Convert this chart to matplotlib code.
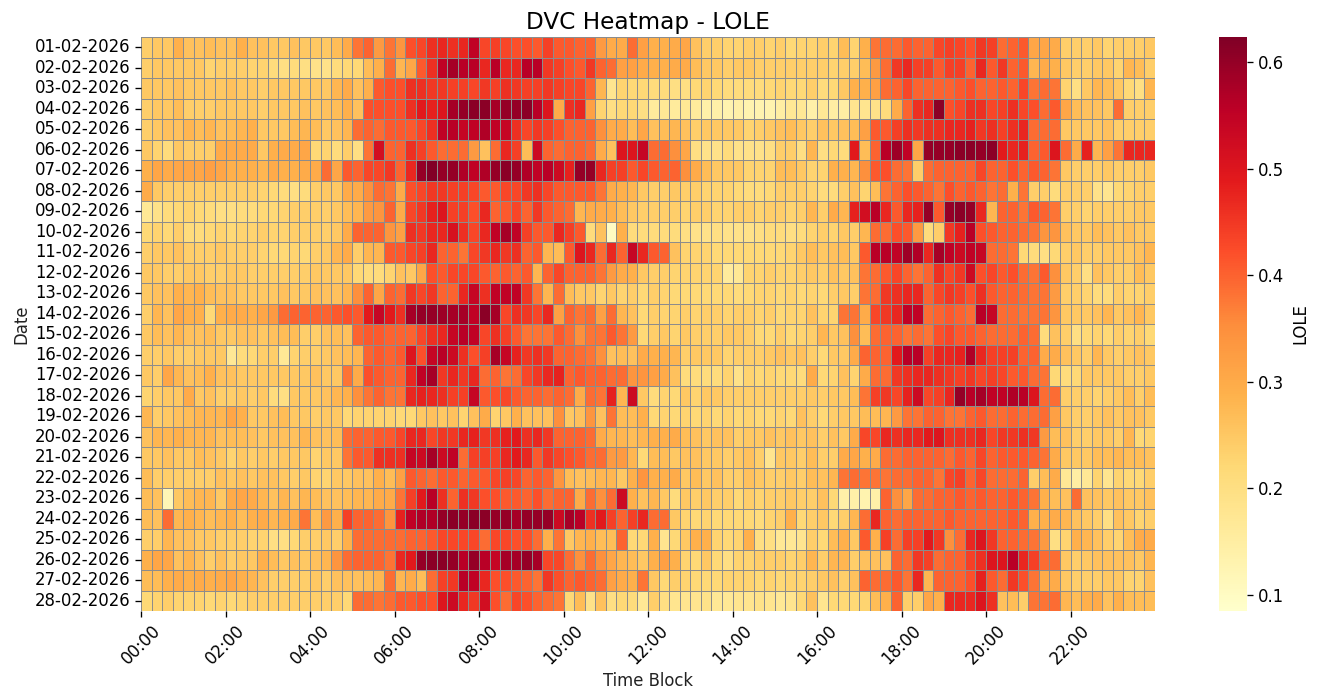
import numpy as np
import matplotlib
matplotlib.use("Agg")
import matplotlib.pyplot as plt
import seaborn as sns

dates = [f"{d:02d}-02-2026" for d in range(1, 29)]
time_ticks = ["00:00","02:00","04:00","06:00","08:00","10:00","12:00","14:00","16:00","18:00","20:00","22:00"]

# LOLE in hundredths, 96 blocks per day, grouped by two hours
r01 = [24,25,25,29,26,26,27,26, 26,29,26,26,25,25,26,25, 25,25,27,30,38,40,33,38, 34,42,43,46,47,46,47,55, 43,44,43,42,42,41,44,41, 41,40,40,33,30,30,39,32, 29,29,30,31,26,24,24,23, 23,24,24,23,24,22,23,23, 24,23,27,23,29,38,39,39, 41,40,40,43,44,43,42,45, 44,39,40,41,31,31,30,24, 24,24,25,23,24,24,24,25]
r02 = [24,25,25,25,25,25,23,24, 24,24,23,23,21,20,21,20, 19,19,21,22,22,27,29,39, 28,31,41,46,55,58,56,56, 47,56,47,47,56,56,45,44, 42,41,45,40,39,32,32,30, 29,29,30,30,27,25,25,24, 25,25,24,24,24,24,24,24, 24,23,24,24,27,33,39,45, 47,44,44,41,44,44,40,47, 41,45,40,41,28,30,29,25, 24,24,25,25,23,28,27,24]
r03 = [25,25,25,26,25,25,25,25, 26,25,25,24,25,25,25,25, 25,25,28,30,26,29,41,42, 42,46,46,45,45,44,44,43, 45,44,46,45,44,44,45,44, 43,43,40,28,18,23,22,22, 21,21,20,20,22,23,22,21, 21,21,21,22,23,22,22,24, 21,22,25,29,29,32,39,40, 43,40,40,40,40,41,42,40, 40,41,40,43,38,39,38,23, 20,25,28,27,25,22,20,28]
r04 = [24,25,25,27,24,24,24,25, 25,25,25,24,25,25,25,26, 25,26,27,29,26,42,42,42, 42,46,49,48,50,58,60,61, 61,58,60,60,61,56,50,30, 46,47,32,23,20,22,22,20, 16,17,16,17,16,14,14,13, 14,13,13,13,15,17,17,14, 17,15,15,18,18,19,21,30, 40,46,47,61,42,43,46,46, 43,44,46,43,42,39,41,31, 27,26,26,25,39,24,24,24]
r05 = [24,25,26,26,28,27,28,26, 27,28,29,25,25,25,27,28, 27,25,26,28,39,40,39,41, 41,41,43,46,55,56,54,55, 57,55,54,46,43,45,44,42, 40,40,40,35,30,30,27,31, 26,27,28,26,24,25,25,25, 25,23,24,25,26,27,25,24, 26,25,26,27,32,41,41,44, 46,45,46,46,47,47,48,45, 46,44,46,47,39,39,39,25, 25,25,25,26,24,24,24,24]
r06 = [25,23,21,25,24,24,24,30, 30,30,30,25,29,30,30,31, 22,23,21,24,20,38,52,40, 40,46,44,41,39,39,39,33, 26,39,47,44,27,53,40,39, 40,40,39,30,26,50,50,54, 39,39,35,31,20,19,19,21, 19,19,19,20,24,24,20,28, 20,22,21,49,27,40,56,59, 55,31,60,60,60,61,61,60, 61,49,47,48,40,41,50,39, 30,48,28,32,38,47,47,47]
r07 = [29,31,30,31,31,31,32,31, 29,29,29,28,30,29,29,30, 30,39,31,41,40,43,43,45, 40,47,60,62,60,60,57,55, 57,60,61,60,57,55,56,53, 48,60,60,47,44,44,41,43, 41,40,40,35,30,27,25,25, 25,23,23,23,27,27,25,23, 23,29,29,28,35,41,42,39, 38,24,39,40,40,40,40,43, 40,40,42,40,41,40,38,25, 24,24,24,25,24,24,24,25]
r08 = [30,25,24,24,24,24,24,24, 24,24,24,23,22,21,20,21, 24,25,25,30,30,35,39,38, 30,42,43,45,45,44,44,43, 41,41,43,43,45,46,43,41, 41,41,41,38,30,29,28,25, 24,24,25,24,24,23,23,23, 22,21,21,22,24,24,24,23, 21,21,24,26,23,27,38,40, 42,41,40,38,42,40,41,40, 38,39,29,38,24,24,21,24, 24,24,19,18,22,23,24,24]
r09 = [17,19,21,22,23,22,21,20, 20,21,21,22,22,23,24,24, 24,24,25,27,28,33,34,40, 30,43,45,48,50,44,44,42, 47,40,41,43,40,45,41,40, 39,28,30,30,29,27,25,24, 24,24,24,23,24,24,23,23, 24,24,23,24,24,23,24,28, 24,30,28,48,52,56,47,41, 47,48,60,41,60,61,60,47, 28,40,40,38,41,40,38,24, 24,23,24,24,24,24,25,25]
r10 = [22,23,22,24,21,21,22,23, 22,23,23,24,23,23,24,24, 24,24,25,30,40,40,40,34, 32,46,45,47,47,51,46,43, 47,55,58,55,44,41,41,47, 44,41,21,26,10,29,21,21, 21,21,21,20,19,19,20,19, 19,19,20,21,21,20,21,23, 24,23,25,24,28,39,39,42, 41,33,21,24,45,48,56,42, 41,40,40,39,38,34,34,26, 25,25,27,26,25,26,25,25]
r11 = [24,25,25,26,24,24,24,25, 24,24,24,23,22,22,23,22, 24,25,28,30,24,28,28,41, 41,43,44,47,40,40,38,43, 45,47,45,46,40,41,28,27, 41,50,47,39,47,40,54,47, 41,40,26,23,23,23,22,22, 22,22,22,22,22,23,25,27, 25,26,27,25,41,56,56,55, 59,57,47,58,55,53,55,54, 39,39,38,22,21,20,22,24, 25,24,24,25,25,25,26,28]
r12 = [25,25,24,24,25,25,24,24, 25,25,24,24,24,24,24,24, 25,25,25,25,22,21,21,23, 26,25,31,42,41,43,43,43, 41,40,41,40,41,28,40,43, 40,40,40,38,33,30,29,25, 24,24,23,23,23,23,23,16, 17,23,23,24,23,23,24,25, 24,26,25,26,38,39,41,43, 40,38,40,46,43,45,53,42, 43,41,42,39,38,41,35,25, 24,20,26,25,24,24,27,25]
r13 = [25,26,26,29,28,29,27,26, 26,25,25,25,25,26,25,25, 26,26,26,28,35,40,31,40, 39,45,43,45,40,40,47,54, 46,55,55,55,45,38,28,39, 27,25,25,23,25,23,24,22, 24,23,22,22,22,22,22,22, 21,22,23,23,22,23,22,23, 22,24,25,24,38,39,45,46, 47,47,40,43,45,44,42,46, 41,40,40,39,38,38,33,24, 24,23,21,21,24,23,23,24]
r14 = [24,28,26,31,29,29,22,29, 30,30,29,31,33,39,40,40, 40,40,41,42,41,49,54,49, 46,58,60,60,59,58,58,55, 61,58,43,46,45,43,47,32, 40,38,39,32,39,28,26,22, 24,23,23,24,23,24,24,23, 24,24,23,24,22,23,23,26, 23,23,38,38,30,43,45,47, 55,55,39,40,41,40,39,56, 54,39,39,38,38,38,34,25, 25,25,26,28,25,26,28,25]
r15 = [25,27,26,28,26,26,27,25, 25,26,26,25,26,27,27,24, 24,26,27,26,40,41,41,40, 40,40,43,46,47,54,56,55, 43,46,44,41,38,38,38,41, 39,35,38,38,41,38,33,22, 24,25,23,25,24,24,24,25, 25,24,22,22,24,22,23,24, 28,25,26,35,27,39,40,40, 38,39,38,42,43,41,41,40, 39,39,39,40,39,21,26,24, 20,22,23,22,24,23,24,22]
r16 = [24,24,25,24,24,25,25,25, 17,21,22,24,24,17,23,24, 24,25,26,27,28,40,41,40, 41,50,42,54,56,53,46,42, 44,58,54,48,45,46,45,40, 40,39,38,35,26,27,26,30, 29,29,28,24,25,25,25,23, 24,24,24,25,26,25,26,24, 22,25,25,30,40,40,40,49, 56,56,44,47,47,48,57,47, 44,44,44,40,40,30,30,26, 25,24,28,25,24,25,26,25]
r17 = [25,24,31,28,26,27,29,26, 26,25,25,25,25,25,25,25, 26,25,25,38,30,42,41,40, 40,47,55,58,45,47,45,47, 39,40,38,39,43,45,47,48, 40,41,40,40,39,39,34,34, 32,30,26,21,21,21,21,23, 19,23,22,23,22,22,21,30, 22,23,26,23,30,39,39,45, 46,47,47,46,45,44,45,43, 44,43,41,41,39,38,22,21, 22,25,25,25,25,24,24,25]
r18 = [23,24,25,25,30,25,26,24, 24,25,24,25,21,20,25,25, 25,26,28,29,35,38,40,38, 38,47,48,47,46,44,44,54, 41,42,43,41,40,40,39,40, 39,30,39,38,48,28,53,25, 21,23,22,25,23,25,25,24, 24,24,24,24,24,24,24,25, 24,25,25,27,38,44,45,43, 48,53,43,44,47,60,56,58, 55,55,57,56,50,39,39,24, 24,24,23,24,25,27,24,27]
r19 = [28,24,25,26,27,28,28,28, 31,29,25,25,26,27,25,25, 24,25,25,22,23,23,23,23, 22,22,25,26,25,26,23,26, 30,23,25,29,26,26,26,35, 25,26,34,26,38,27,27,29, 22,23,22,23,22,23,22,23, 22,23,22,22,23,22,26,24, 22,24,25,25,27,27,28,33, 38,38,40,40,38,38,40,41, 39,39,40,39,39,39,32,25, 24,24,25,26,25,26,26,25]
r20 = [26,28,28,29,28,28,28,26, 27,27,26,25,26,26,26,28, 26,26,27,39,40,40,41,41, 43,47,47,43,45,45,47,48, 45,46,48,49,46,47,45,40, 40,40,39,30,28,28,27,28, 29,29,30,27,26,25,26,26, 24,25,25,26,25,26,25,26, 24,26,25,30,43,43,47,46, 47,47,49,50,46,46,46,47, 43,45,45,46,45,33,27,26, 24,24,25,25,24,28,22,23]
r21 = [25,25,26,25,25,27,26,25, 23,25,24,25,24,25,25,25, 23,25,25,38,41,41,46,46, 46,54,53,58,53,55,39,44, 44,44,47,49,47,41,45,43, 42,41,39,39,33,33,28,22, 27,27,25,26,26,25,25,24, 25,26,24,18,25,25,24,27, 24,24,30,31,29,30,39,39, 40,40,40,40,39,41,40,43, 40,41,41,41,40,38,30,25, 25,25,27,27,28,27,27,26]
r22 = [27,24,24,24,24,24,24,26, 25,26,25,26,26,25,24,25, 23,23,25,25,26,26,29,27, 32,41,40,39,41,41,40,41, 41,43,44,43,40,41,40,34, 27,26,27,28,28,25,29,34, 29,29,30,25,27,25,26,24, 24,26,25,24,24,25,24,27, 26,28,38,39,38,38,38,39, 39,40,40,38,43,44,40,43, 39,39,39,40,24,27,30,17, 15,17,23,18,23,22,22,24]
r23 = [27,26,12,25,27,28,28,25, 30,31,30,28,26,28,26,28, 27,26,26,27,28,28,30,30, 38,44,49,56,46,40,46,45, 42,42,41,41,40,42,39,40, 40,30,39,35,39,53,29,26, 28,25,21,25,24,25,24,24, 22,24,23,24,24,25,24,24, 26,22,14,14,13,14,40,35, 31,39,39,40,40,41,40,41, 40,40,41,40,38,29,27,26, 39,26,26,25,26,25,25,26]
r24 = [27,26,39,28,29,28,27,28, 29,27,29,30,28,29,30,38, 27,33,29,44,40,40,39,34, 48,55,57,57,60,61,60,61, 61,60,60,58,60,60,60,53, 58,56,46,49,44,40,44,47, 39,39,25,23,22,23,22,22, 22,22,21,23,24,29,22,24, 25,22,24,28,39,47,40,39, 40,40,40,40,41,40,40,40, 40,40,41,40,29,29,30,28, 26,25,24,20,26,25,23,24]
r25 = [24,24,28,26,26,25,25,24, 24,24,23,23,20,20,22,24, 24,25,24,29,39,39,39,39, 39,40,40,41,43,43,43,43, 39,43,43,42,42,39,29,38, 25,28,29,27,27,40,22,22, 29,18,22,25,29,29,23,22, 23,29,20,20,17,17,18,24, 22,27,29,25,41,29,44,39, 44,44,49,45,35,39,47,50, 45,40,40,39,38,33,20,23, 29,28,26,24,23,27,30,30]
r26 = [29,31,31,26,28,26,24,26, 24,25,25,29,27,25,26,25, 26,28,34,39,40,40,40,38, 47,49,60,61,61,60,56,60, 56,54,58,58,60,58,43,43, 39,35,39,35,31,28,27,25, 29,32,29,23,22,25,22,20, 23,23,24,24,24,23,24,28, 24,28,28,24,26,26,26,40, 39,45,44,39,40,40,44,46, 50,50,56,47,44,39,39,25, 24,25,26,26,26,26,25,28]
r27 = [27,27,29,30,29,30,29,30, 31,29,28,26,24,24,24,24, 25,24,26,26,26,27,28,39, 28,30,27,39,44,45,56,55, 47,42,42,41,40,38,45,42, 40,41,40,39,32,30,29,38, 25,22,24,23,22,22,22,23, 23,23,22,23,22,23,23,24, 25,26,24,26,40,39,39,41, 38,47,28,40,40,40,42,48, 41,39,45,42,38,30,30,25, 24,24,24,25,25,23,23,26]
r28 = [22,23,24,23,23,23,22,23, 22,23,24,24,24,24,24,24, 24,24,24,22,39,39,38,39, 41,41,42,42,50,53,47,45, 52,42,39,43,42,40,39,38, 22,27,19,26,20,22,21,17, 24,20,18,18,18,19,17,17, 18,18,19,18,17,18,22,26, 18,22,22,22,23,27,29,40, 24,24,31,29,47,47,47,50, 46,26,27,24,38,38,39,28, 27,29,30,26,29,27,27,27]

rows = [r01,r02,r03,r04,r05,r06,r07,r08,r09,r10,r11,r12,r13,r14,r15,r16,r17,r18,r19,r20,r21,r22,r23,r24,r25,r26,r27,r28]
data = np.array(rows) / 100.0

W, H = 1323, 698
fig = plt.figure(figsize=(W/100, H/100), dpi=100)
ax = fig.add_axes([141/W, 1-611/H, (1155-141)/W, (611-37)/H])
cax = fig.add_axes([1219/W, 1-611/H, 28/W, (611-37)/H])

sns.heatmap(data, ax=ax, cbar_ax=cax, cmap="YlOrRd", vmin=0.085, vmax=0.6235,
            linewidths=0.7, linecolor="#8c8c8c", cbar_kws={"label": "LOLE"})

ax.set_xticks(np.arange(0, 96, 8))
ax.set_xticklabels(time_ticks, rotation=45, fontsize=11.9)
ax.set_yticks(np.arange(28) + 0.5)
ax.set_yticklabels(dates, rotation=0, fontsize=11.9)
ax.tick_params(length=4.2, width=0.95)
ax.set_xlabel("Time Block", fontsize=11.9, labelpad=3, color="#222222")
ax.set_ylabel("Date", fontsize=11.9, labelpad=3, color="#222222")
ax.set_title("DVC Heatmap - LOLE", fontsize=16.7, pad=6)
cax.tick_params(labelsize=11.9, length=4.2, width=0.95)
cax.set_yticks([0.1, 0.2, 0.3, 0.4, 0.5, 0.6])
cax.set_ylabel("LOLE", fontsize=11.9, labelpad=5)
fig.savefig("out.png", dpi=100)
